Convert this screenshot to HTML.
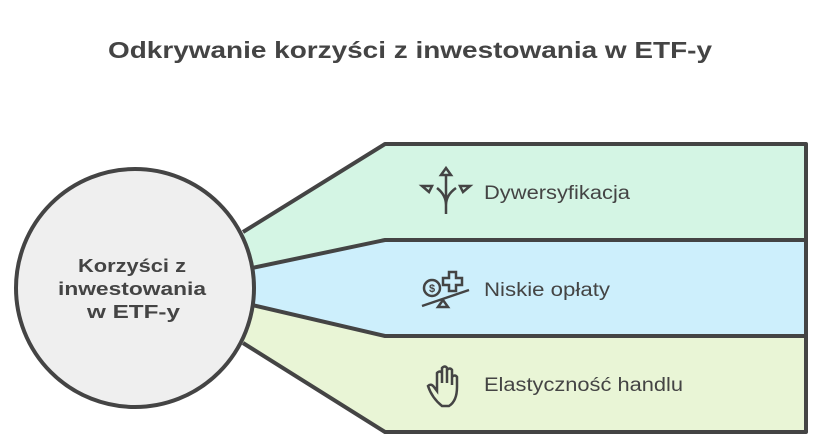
<!DOCTYPE html>
<html><head><meta charset="utf-8"><style>
body{margin:0;background:#fff;}
svg{display:block;font-family:"Liberation Sans",sans-serif;}
</style></head><body>
<svg width="821" height="446" viewBox="0 0 821 446">
<text x="108" y="58" font-size="23" font-weight="bold" fill="#444" textLength="604" lengthAdjust="spacingAndGlyphs">Odkrywanie korzyści z inwestowania w ETF-y</text>
<polygon points="243,232 385,144 806,144 806,240 385,240 252,268" fill="#d4f5e4"/>
<polygon points="252,268 385,240 806,240 806,336 385,336 252,305" fill="#cdeffc"/>
<polygon points="252,305 385,336 806,336 806,432 385,432 243,343" fill="#e9f5d6"/>
<g fill="none" stroke="#444" stroke-width="4" stroke-linejoin="round">
<polyline points="243,232 385,144 806,144 806,432 385,432 243,343"/>
<polyline points="252,268 385,240 806,240"/>
<polyline points="252,305 385,336 806,336"/>
</g>
<circle cx="135" cy="288" r="119" fill="#efefef" stroke="#444" stroke-width="4"/>
<g font-size="18" font-weight="bold" fill="#444">
<text x="78" y="272" textLength="108" lengthAdjust="spacingAndGlyphs">Korzyści z</text>
<text x="58" y="295" textLength="148" lengthAdjust="spacingAndGlyphs">inwestowania</text>
<text x="87" y="318" textLength="93" lengthAdjust="spacingAndGlyphs">w ETF-y</text>
</g>
<g font-size="19" fill="#444">
<text x="484" y="199" textLength="146" lengthAdjust="spacingAndGlyphs">Dywersyfikacja</text>
<text x="484" y="296" textLength="126" lengthAdjust="spacingAndGlyphs">Niskie opłaty</text>
<text x="484" y="391" textLength="199" lengthAdjust="spacingAndGlyphs">Elastyczność handlu</text>
</g>
<g fill="none" stroke="#444" stroke-width="2.5">
<path d="M446,214 V175 M446,205 Q446,195 437,188 M446,205 Q446,195 456,188"/>
<polygon points="441,175 446,168 451,175"/>
<polygon points="422,186 432,186 429,192"/>
<polygon points="460,186 470,186 463,192"/>
<circle cx="432" cy="288" r="8"/>
<path d="M449,272 h7 v6 h6 v7 h-6 v6 h-7 v-6 h-6 v-7 h6z"/>
<path d="M422,306 L469,290 M438,307 l5,-7 l5,7z"/>
<path d="M442,406 q-10,-8 -14,-20 q3,-3 6,1 l3,4 v-18 q3,-3 5,0 v10 v-15 q3,-3 5,0 v15 v-13 q3,-3 5,0 v15 v-8 q3,-3 5,0 v10 q0,14 -8,19 z"/>
</g>
<text x="432" y="292" font-size="11" text-anchor="middle" fill="#444" font-weight="bold">$</text>
</svg>
</body></html>
